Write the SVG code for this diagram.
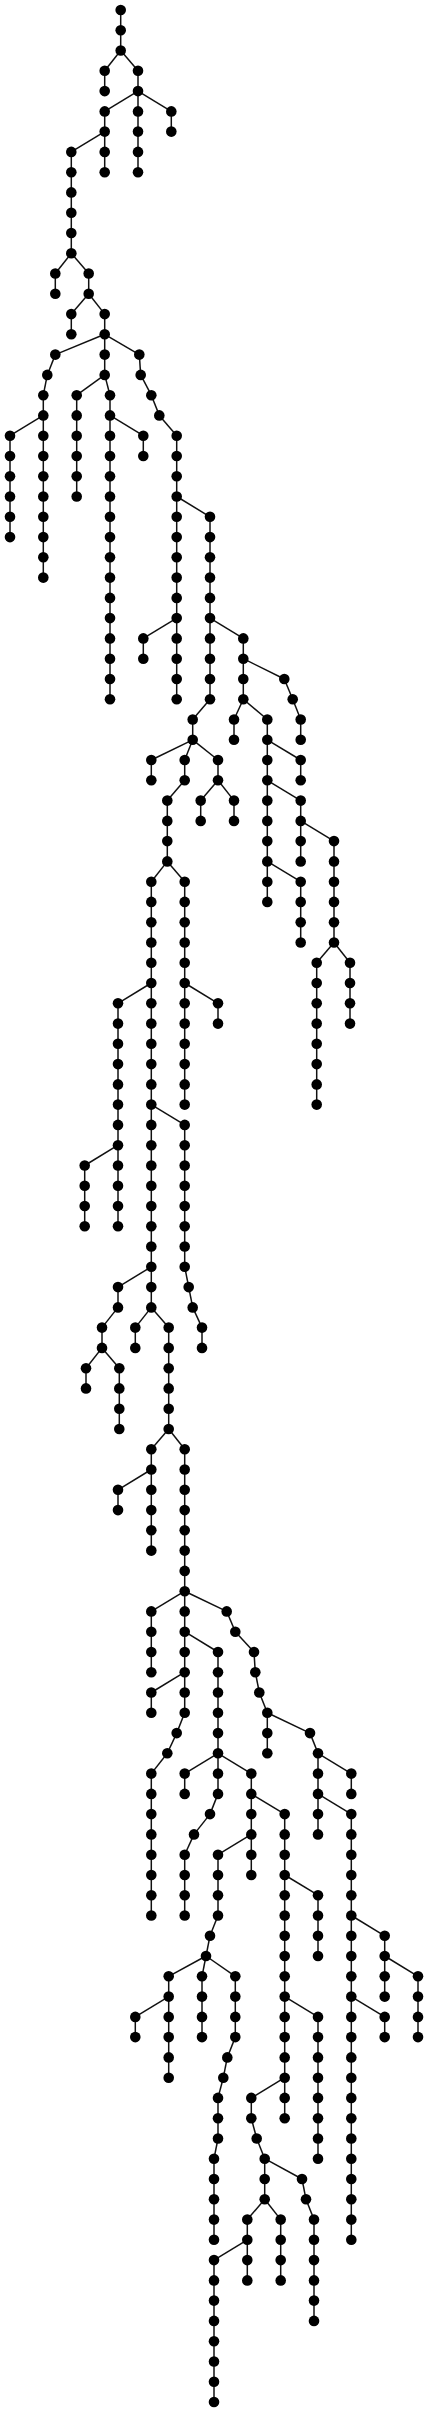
<svg xmlns="http://www.w3.org/2000/svg" width="428" height="2412" viewBox="0 0 428 2412">
<style>
rect.bg{fill:#fff}
#links path{fill:none;stroke:#111;stroke-width:1.5}
.node circle{fill:#000}
</style>
<rect class="bg" x="0" y="0" width="428" height="2412"/>
<g id="links">
<path d="M120.7 10V30.3"/><path d="M120.7 30.3V50.5"/>
<path d="M120.7 50.5L104.7 70.8"/><path d="M120.7 50.5L138 70.8"/>
<path d="M104.7 70.8V91.1"/><path d="M138 70.8V91.1"/>
<path d="M138 91.1L104.7 111.4"/><path d="M138 91.1V111.4"/><path d="M138 91.1L171.3 111.4"/>
<path d="M104.7 111.4V131.6"/><path d="M138 111.4V131.6"/><path d="M171.3 111.4V131.6"/>
<path d="M104.7 131.6L71.3 151.9"/><path d="M104.7 131.6V151.9"/><path d="M138 131.6V151.9"/>
<path d="M71.3 151.9V172.2"/><path d="M104.7 151.9V172.2"/><path d="M138 151.9V172.2"/>
<path d="M71.3 172.2V192.4"/><path d="M71.3 192.4V212.7"/><path d="M71.3 212.7V233"/><path d="M71.3 233V253.3"/>
<path d="M71.3 253.3L55.3 273.5"/><path d="M71.3 253.3L88.7 273.5"/>
<path d="M55.3 273.5V293.8"/><path d="M88.7 273.5V293.8"/>
<path d="M88.7 293.8L71.3 314.1"/><path d="M88.7 293.8L104.7 314.1"/>
<path d="M71.3 314.1V334.3"/><path d="M104.7 314.1V334.3"/>
<path d="M104.7 334.3L55.3 354.6"/><path d="M104.7 334.3V354.6"/><path d="M104.7 334.3L139.3 354.6"/>
<path d="M55.3 354.6L47.3 374.9"/><path d="M104.7 354.6V374.9"/><path d="M139.3 354.6L140.7 374.9"/>
<path d="M47.3 374.9L43.3 395.2"/><path d="M104.7 374.9L76.7 395.2"/><path d="M104.7 374.9L110 395.2"/><path d="M140.7 374.9L151.3 395.2"/>
<path d="M43.3 395.2V415.4"/><path d="M76.7 395.2V415.4"/><path d="M110 395.2V415.4"/><path d="M151.3 395.2L159.3 415.4"/>
<path d="M43.3 415.4L10 435.7"/><path d="M43.3 415.4V435.7"/><path d="M76.7 415.4V435.7"/><path d="M110 415.4V435.7"/><path d="M110 415.4L143.3 435.7"/><path d="M159.3 415.4L176.7 435.7"/>
<path d="M10 435.7V456"/><path d="M43.3 435.7V456"/><path d="M76.7 435.7V456"/><path d="M110 435.7V456"/><path d="M143.3 435.7V456"/><path d="M176.7 435.7V456"/>
<path d="M10 456V476.2"/><path d="M43.3 456V476.2"/><path d="M76.7 456V476.2"/><path d="M110 456V476.2"/><path d="M176.7 456V476.2"/>
<path d="M10 476.2V496.5"/><path d="M43.3 476.2V496.5"/><path d="M76.7 476.2V496.5"/><path d="M110 476.2V496.5"/><path d="M176.7 476.2V496.5"/>
<path d="M10 496.5V516.8"/><path d="M43.3 496.5V516.8"/><path d="M110 496.5V516.8"/><path d="M176.7 496.5V516.8"/><path d="M176.7 496.5L210 516.8"/>
<path d="M10 516.8V537.1"/><path d="M43.3 516.8V537.1"/><path d="M110 516.8V537.1"/><path d="M176.7 516.8V537.1"/><path d="M210 516.8V537.1"/>
<path d="M43.3 537.1V557.3"/><path d="M110 537.1V557.3"/><path d="M176.7 537.1V557.3"/><path d="M210 537.1V557.3"/>
<path d="M43.3 557.3V577.6"/><path d="M110 557.3V577.6"/><path d="M176.7 557.3V577.6"/><path d="M210 557.3V577.6"/>
<path d="M110 577.6V597.9"/><path d="M176.7 577.6V597.9"/><path d="M210 577.6V597.9"/>
<path d="M110 597.9V618.1"/><path d="M176.7 597.9V618.1"/><path d="M210 597.9V618.1"/>
<path d="M110 618.1V638.4"/><path d="M176.7 618.1L143.3 638.4"/><path d="M176.7 618.1V638.4"/><path d="M210 618.1V638.4"/><path d="M210 618.1L243.3 638.4"/>
<path d="M110 638.4V658.7"/><path d="M143.3 638.4V658.7"/><path d="M176.7 638.4V658.7"/><path d="M210 638.4V658.7"/><path d="M243.3 638.4V658.7"/>
<path d="M110 658.7V679"/><path d="M176.7 658.7V679"/><path d="M210 658.7V679"/><path d="M243.3 658.7V679"/><path d="M243.3 658.7L284.3 679"/>
<path d="M110 679V699.2"/><path d="M176.7 679V699.2"/><path d="M210 679V699.2"/><path d="M243.3 679V699.2"/><path d="M284.3 679L292.7 699.2"/>
<path d="M210 699.2L192.7 719.5"/><path d="M243.3 699.2L234 719.5"/><path d="M243.3 699.2L267.3 719.5"/><path d="M292.7 699.2L300.7 719.5"/>
<path d="M192.7 719.5V739.8"/><path d="M234 719.5V739.8"/><path d="M267.3 719.5V739.8"/><path d="M300.7 719.5V739.8"/>
<path d="M192.7 739.8L151.3 760"/><path d="M192.7 739.8L184.7 760"/><path d="M192.7 739.8L218 760"/><path d="M267.3 739.8V760"/><path d="M267.3 739.8L300.7 760"/>
<path d="M151.3 760V780.3"/><path d="M184.7 760V780.3"/><path d="M218 760V780.3"/><path d="M267.3 760V780.3"/><path d="M300.7 760V780.3"/>
<path d="M184.7 780.3L167.3 800.6"/><path d="M218 780.3L200.7 800.6"/><path d="M218 780.3L234 800.6"/><path d="M267.3 780.3V800.6"/><path d="M267.3 780.3L300.7 800.6"/>
<path d="M167.3 800.6V820.9"/><path d="M200.7 800.6V820.9"/><path d="M234 800.6V820.9"/><path d="M267.3 800.6V820.9"/><path d="M300.7 800.6V820.9"/>
<path d="M167.3 820.9V841.1"/><path d="M267.3 820.9V841.1"/><path d="M300.7 820.9V841.1"/><path d="M300.7 820.9L334 841.1"/>
<path d="M167.3 841.1V861.4"/><path d="M267.3 841.1V861.4"/><path d="M300.7 841.1V861.4"/><path d="M334 841.1V861.4"/>
<path d="M167.3 861.4L151.3 881.7"/><path d="M167.3 861.4L184.7 881.7"/><path d="M267.3 861.4V881.7"/><path d="M267.3 861.4L300.7 881.7"/><path d="M334 861.4V881.7"/>
<path d="M151.3 881.7V901.9"/><path d="M184.7 881.7V901.9"/><path d="M267.3 881.7V901.9"/><path d="M300.7 881.7V901.9"/><path d="M334 881.7V901.9"/>
<path d="M151.3 901.9V922.2"/><path d="M184.7 901.9V922.2"/><path d="M300.7 901.9V922.2"/><path d="M334 901.9V922.2"/>
<path d="M151.3 922.2V942.5"/><path d="M184.7 922.2V942.5"/><path d="M300.7 922.2V942.5"/><path d="M334 922.2V942.5"/>
<path d="M151.3 942.5V962.8"/><path d="M184.7 942.5V962.8"/><path d="M334 942.5L316.7 962.8"/><path d="M334 942.5L350 962.8"/>
<path d="M151.3 962.8V983"/><path d="M184.7 962.8V983"/><path d="M316.7 962.8V983"/><path d="M350 962.8V983"/>
<path d="M151.3 983L118 1003.3"/><path d="M151.3 983V1003.3"/><path d="M184.7 983V1003.3"/><path d="M184.7 983L218 1003.3"/><path d="M316.7 983V1003.3"/><path d="M350 983V1003.3"/>
<path d="M118 1003.3V1023.6"/><path d="M151.3 1003.3V1023.6"/><path d="M184.7 1003.3V1023.6"/><path d="M218 1003.3V1023.6"/><path d="M316.7 1003.3V1023.6"/><path d="M350 1003.3V1023.6"/>
<path d="M118 1023.6V1043.8"/><path d="M151.3 1023.6V1043.8"/><path d="M184.7 1023.6V1043.8"/><path d="M316.7 1023.6V1043.8"/>
<path d="M118 1043.8V1064.1"/><path d="M151.3 1043.8V1064.1"/><path d="M184.7 1043.8V1064.1"/><path d="M316.7 1043.8V1064.1"/>
<path d="M118 1064.1V1084.4"/><path d="M151.3 1064.1V1084.4"/><path d="M184.7 1064.1V1084.4"/><path d="M316.7 1064.1V1084.4"/>
<path d="M118 1084.4V1104.6"/><path d="M151.3 1084.4V1104.6"/><path d="M184.7 1084.4V1104.6"/><path d="M316.7 1084.4V1104.6"/>
<path d="M118 1104.6V1124.9"/><path d="M151.3 1104.6V1124.9"/><path d="M151.3 1104.6L184.7 1124.9"/>
<path d="M118 1124.9V1145.2"/><path d="M151.3 1124.9V1145.2"/><path d="M184.7 1124.9V1145.2"/>
<path d="M118 1145.2L84.7 1165.5"/><path d="M118 1145.2V1165.5"/><path d="M151.3 1145.2V1165.5"/><path d="M184.7 1145.2V1165.5"/>
<path d="M84.7 1165.5V1185.7"/><path d="M118 1165.5V1185.7"/><path d="M151.3 1165.5V1185.7"/><path d="M184.7 1165.5V1185.7"/>
<path d="M84.7 1185.7V1206"/><path d="M118 1185.7V1206"/><path d="M151.3 1185.7V1206"/><path d="M184.7 1185.7V1206"/>
<path d="M84.7 1206V1226.3"/><path d="M118 1206V1226.3"/><path d="M151.3 1206V1226.3"/><path d="M184.7 1206V1226.3"/>
<path d="M151.3 1226.3V1246.5"/><path d="M184.7 1226.3V1246.5"/>
<path d="M151.3 1246.5V1266.8"/><path d="M184.7 1246.5V1266.8"/>
<path d="M151.3 1266.8L118 1287.1"/><path d="M151.3 1266.8V1287.1"/><path d="M184.7 1266.8L188.7 1287.1"/>
<path d="M118 1287.1V1307.4"/><path d="M151.3 1287.1V1307.4"/><path d="M188.7 1287.1L192.7 1307.4"/>
<path d="M118 1307.4L102 1327.6"/><path d="M151.3 1307.4L135.3 1327.6"/><path d="M151.3 1307.4L168.7 1327.6"/><path d="M192.7 1307.4L202 1327.6"/>
<path d="M102 1327.6V1347.9"/><path d="M135.3 1327.6V1347.9"/><path d="M168.7 1327.6V1347.9"/><path d="M202 1327.6V1347.9"/>
<path d="M102 1347.9L86 1368.2"/><path d="M102 1347.9L119.3 1368.2"/><path d="M168.7 1347.9V1368.2"/>
<path d="M86 1368.2V1388.4"/><path d="M119.3 1368.2V1388.4"/><path d="M168.7 1368.2V1388.4"/>
<path d="M119.3 1388.4V1408.7"/><path d="M168.7 1388.4V1408.7"/>
<path d="M119.3 1408.7V1429"/><path d="M168.7 1408.7V1429"/>
<path d="M168.7 1429L151.3 1449.3"/><path d="M168.7 1429L184.7 1449.3"/>
<path d="M151.3 1449.3V1469.5"/><path d="M184.7 1449.3V1469.5"/>
<path d="M151.3 1469.5L118 1489.8"/><path d="M151.3 1469.5V1489.8"/><path d="M184.7 1469.5V1489.8"/>
<path d="M118 1489.8V1510.1"/><path d="M151.3 1489.8V1510.1"/><path d="M184.7 1489.8V1510.1"/>
<path d="M151.3 1510.1V1530.3"/><path d="M184.7 1510.1V1530.3"/>
<path d="M151.3 1530.3V1550.6"/><path d="M184.7 1530.3V1550.6"/>
<path d="M184.7 1550.6V1570.9"/><path d="M184.7 1570.9V1591.2"/>
<path d="M184.7 1591.2L151.3 1611.4"/><path d="M184.7 1591.2V1611.4"/><path d="M184.7 1591.2L226.7 1611.4"/>
<path d="M151.3 1611.4V1631.7"/><path d="M184.7 1611.4V1631.7"/><path d="M226.7 1611.4L235.3 1631.7"/>
<path d="M151.3 1631.7V1652"/><path d="M184.7 1631.7V1652"/><path d="M184.7 1631.7L218 1652"/><path d="M235.3 1631.7L254 1652"/>
<path d="M151.3 1652V1672.2"/><path d="M184.7 1652V1672.2"/><path d="M218 1652V1672.2"/><path d="M254 1652L255.3 1672.2"/>
<path d="M184.7 1672.2L151.3 1692.5"/><path d="M184.7 1672.2V1692.5"/><path d="M218 1672.2V1692.5"/><path d="M255.3 1672.2L259.3 1692.5"/>
<path d="M151.3 1692.5V1712.8"/><path d="M184.7 1692.5V1712.8"/><path d="M218 1692.5V1712.8"/><path d="M259.3 1692.5L267.3 1712.8"/>
<path d="M184.7 1712.8L176.7 1733.1"/><path d="M218 1712.8V1733.1"/><path d="M267.3 1712.8V1733.1"/><path d="M267.3 1712.8L310 1733.1"/>
<path d="M176.7 1733.1L167.3 1753.3"/><path d="M218 1733.1V1753.3"/><path d="M267.3 1733.1V1753.3"/><path d="M310 1733.1L318 1753.3"/>
<path d="M167.3 1753.3L151.3 1773.6"/><path d="M218 1753.3L184.7 1773.6"/><path d="M218 1753.3V1773.6"/><path d="M218 1753.3L251.3 1773.6"/><path d="M318 1753.3V1773.6"/><path d="M318 1753.3L351.3 1773.6"/>
<path d="M151.3 1773.6V1793.9"/><path d="M184.7 1773.6V1793.9"/><path d="M218 1773.6V1793.9"/><path d="M251.3 1773.6V1793.9"/><path d="M318 1773.6V1793.9"/><path d="M351.3 1773.6V1793.9"/>
<path d="M151.3 1793.9V1814.1"/><path d="M218 1793.9L210 1814.1"/><path d="M251.3 1793.9V1814.1"/><path d="M251.3 1793.9L284.7 1814.1"/><path d="M318 1793.9V1814.1"/><path d="M318 1793.9L351.3 1814.1"/>
<path d="M151.3 1814.1V1834.4"/><path d="M210 1814.1L194 1834.4"/><path d="M251.3 1814.1V1834.4"/><path d="M284.7 1814.1V1834.4"/><path d="M318 1814.1V1834.4"/><path d="M351.3 1814.1V1834.4"/>
<path d="M151.3 1834.4V1854.7"/><path d="M194 1834.4L184.7 1854.7"/><path d="M251.3 1834.4L218 1854.7"/><path d="M251.3 1834.4V1854.7"/><path d="M284.7 1834.4V1854.7"/><path d="M351.3 1834.4V1854.7"/>
<path d="M151.3 1854.7V1875"/><path d="M184.7 1854.7V1875"/><path d="M218 1854.7V1875"/><path d="M251.3 1854.7V1875"/><path d="M284.7 1854.7V1875"/><path d="M351.3 1854.7V1875"/>
<path d="M151.3 1875V1895.2"/><path d="M184.7 1875V1895.2"/><path d="M218 1875V1895.2"/><path d="M284.7 1875V1895.2"/><path d="M284.7 1875L318 1895.2"/><path d="M351.3 1875V1895.2"/>
<path d="M151.3 1895.2V1915.5"/><path d="M184.7 1895.2V1915.5"/><path d="M218 1895.2V1915.5"/><path d="M284.7 1895.2V1915.5"/><path d="M318 1895.2V1915.5"/><path d="M351.3 1895.2V1915.5"/>
<path d="M218 1915.5L210 1935.8"/><path d="M284.7 1915.5V1935.8"/><path d="M318 1915.5V1935.8"/><path d="M351.3 1915.5V1935.8"/><path d="M351.3 1915.5L384.7 1935.8"/>
<path d="M210 1935.8L206 1956"/><path d="M284.7 1935.8V1956"/><path d="M318 1935.8V1956"/><path d="M351.3 1935.8V1956"/><path d="M384.7 1935.8V1956"/>
<path d="M206 1956L168.7 1976.3"/><path d="M206 1956L202 1976.3"/><path d="M206 1956L235.3 1976.3"/><path d="M284.7 1956V1976.3"/><path d="M351.3 1956V1976.3"/><path d="M384.7 1956V1976.3"/><path d="M384.7 1956L418 1976.3"/>
<path d="M168.7 1976.3V1996.6"/><path d="M202 1976.3V1996.6"/><path d="M235.3 1976.3V1996.6"/><path d="M284.7 1976.3V1996.6"/><path d="M351.3 1976.3V1996.6"/><path d="M384.7 1976.3V1996.6"/><path d="M418 1976.3V1996.6"/>
<path d="M168.7 1996.6L135.3 2016.9"/><path d="M168.7 1996.6V2016.9"/><path d="M202 1996.6V2016.9"/><path d="M235.3 1996.6V2016.9"/><path d="M284.7 1996.6V2016.9"/><path d="M284.7 1996.6L318 2016.9"/><path d="M351.3 1996.6V2016.9"/><path d="M351.3 1996.6L384.7 2016.9"/><path d="M418 1996.6V2016.9"/>
<path d="M135.3 2016.9V2037.1"/><path d="M168.7 2016.9V2037.1"/><path d="M202 2016.9V2037.1"/><path d="M235.3 2016.9V2037.1"/><path d="M284.7 2016.9V2037.1"/><path d="M318 2016.9V2037.1"/><path d="M351.3 2016.9V2037.1"/><path d="M384.7 2016.9V2037.1"/><path d="M418 2016.9V2037.1"/>
<path d="M168.7 2037.1V2057.4"/><path d="M235.3 2037.1L227.3 2057.4"/><path d="M284.7 2037.1V2057.4"/><path d="M318 2037.1V2057.4"/><path d="M351.3 2037.1V2057.4"/>
<path d="M168.7 2057.4V2077.7"/><path d="M227.3 2057.4L223.3 2077.7"/><path d="M284.7 2057.4V2077.7"/><path d="M318 2057.4V2077.7"/><path d="M351.3 2057.4V2077.7"/>
<path d="M223.3 2077.7L218 2097.9"/><path d="M284.7 2077.7L251.3 2097.9"/><path d="M284.7 2077.7V2097.9"/><path d="M318 2077.7V2097.9"/><path d="M351.3 2077.7V2097.9"/>
<path d="M218 2097.9V2118.2"/><path d="M251.3 2097.9V2118.2"/><path d="M284.7 2097.9V2118.2"/><path d="M318 2097.9V2118.2"/><path d="M351.3 2097.9V2118.2"/>
<path d="M218 2118.2V2138.5"/><path d="M251.3 2118.2L256.7 2138.5"/><path d="M318 2118.2V2138.5"/><path d="M351.3 2118.2V2138.5"/>
<path d="M218 2138.5L214 2158.7"/><path d="M256.7 2138.5L264.7 2158.7"/><path d="M318 2138.5V2158.7"/><path d="M351.3 2138.5V2158.7"/>
<path d="M214 2158.7V2179"/><path d="M264.7 2158.7V2179"/><path d="M264.7 2158.7L302 2179"/><path d="M351.3 2158.7V2179"/>
<path d="M214 2179V2199.3"/><path d="M264.7 2179V2199.3"/><path d="M302 2179L306 2199.3"/><path d="M351.3 2179V2199.3"/>
<path d="M214 2199.3V2219.6"/><path d="M264.7 2199.3L247.3 2219.6"/><path d="M264.7 2199.3L280.7 2219.6"/><path d="M306 2199.3L314 2219.6"/><path d="M351.3 2199.3V2219.6"/>
<path d="M214 2219.6V2239.8"/><path d="M247.3 2219.6V2239.8"/><path d="M280.7 2219.6V2239.8"/><path d="M314 2219.6V2239.8"/><path d="M351.3 2219.6V2239.8"/>
<path d="M247.3 2239.8L214 2260.1"/><path d="M247.3 2239.8V2260.1"/><path d="M280.7 2239.8V2260.1"/><path d="M314 2239.8V2260.1"/>
<path d="M214 2260.1V2280.4"/><path d="M247.3 2260.1V2280.4"/><path d="M280.7 2260.1V2280.4"/><path d="M314 2260.1V2280.4"/>
<path d="M214 2280.4V2300.6"/><path d="M314 2280.4V2300.6"/>
<path d="M214 2300.6V2320.9"/><path d="M314 2300.6V2320.9"/>
<path d="M214 2320.9V2341.2"/><path d="M214 2341.2V2361.5"/><path d="M214 2361.5V2381.7"/><path d="M214 2381.7V2402"/>
</g>
<g id="nodes">
<g class="node" id="n0_0"><circle cx="120.7" cy="10" r="5.3"/></g>
<g class="node" id="n1_0"><circle cx="120.7" cy="30.3" r="5.3"/></g>
<g class="node" id="n2_0"><circle cx="120.7" cy="50.5" r="5.3"/></g>
<g class="node" id="n3_0"><circle cx="104.7" cy="70.8" r="5.3"/></g>
<g class="node" id="n3_1"><circle cx="138" cy="70.8" r="5.3"/></g>
<g class="node" id="n4_0"><circle cx="104.7" cy="91.1" r="5.3"/></g>
<g class="node" id="n4_1"><circle cx="138" cy="91.1" r="5.3"/></g>
<g class="node" id="n5_0"><circle cx="104.7" cy="111.4" r="5.3"/></g>
<g class="node" id="n5_1"><circle cx="138" cy="111.4" r="5.3"/></g>
<g class="node" id="n5_2"><circle cx="171.3" cy="111.4" r="5.3"/></g>
<g class="node" id="n6_0"><circle cx="104.7" cy="131.6" r="5.3"/></g>
<g class="node" id="n6_1"><circle cx="138" cy="131.6" r="5.3"/></g>
<g class="node" id="n6_2"><circle cx="171.3" cy="131.6" r="5.3"/></g>
<g class="node" id="n7_0"><circle cx="71.3" cy="151.9" r="5.3"/></g>
<g class="node" id="n7_1"><circle cx="104.7" cy="151.9" r="5.3"/></g>
<g class="node" id="n7_2"><circle cx="138" cy="151.9" r="5.3"/></g>
<g class="node" id="n8_0"><circle cx="71.3" cy="172.2" r="5.3"/></g>
<g class="node" id="n8_1"><circle cx="104.7" cy="172.2" r="5.3"/></g>
<g class="node" id="n8_2"><circle cx="138" cy="172.2" r="5.3"/></g>
<g class="node" id="n9_0"><circle cx="71.3" cy="192.4" r="5.3"/></g>
<g class="node" id="n10_0"><circle cx="71.3" cy="212.7" r="5.3"/></g>
<g class="node" id="n11_0"><circle cx="71.3" cy="233" r="5.3"/></g>
<g class="node" id="n12_0"><circle cx="71.3" cy="253.3" r="5.3"/></g>
<g class="node" id="n13_0"><circle cx="55.3" cy="273.5" r="5.3"/></g>
<g class="node" id="n13_1"><circle cx="88.7" cy="273.5" r="5.3"/></g>
<g class="node" id="n14_0"><circle cx="55.3" cy="293.8" r="5.3"/></g>
<g class="node" id="n14_1"><circle cx="88.7" cy="293.8" r="5.3"/></g>
<g class="node" id="n15_0"><circle cx="71.3" cy="314.1" r="5.3"/></g>
<g class="node" id="n15_1"><circle cx="104.7" cy="314.1" r="5.3"/></g>
<g class="node" id="n16_0"><circle cx="71.3" cy="334.3" r="5.3"/></g>
<g class="node" id="n16_1"><circle cx="104.7" cy="334.3" r="5.3"/></g>
<g class="node" id="n17_0"><circle cx="55.3" cy="354.6" r="5.3"/></g>
<g class="node" id="n17_1"><circle cx="104.7" cy="354.6" r="5.3"/></g>
<g class="node" id="n17_2"><circle cx="139.3" cy="354.6" r="5.3"/></g>
<g class="node" id="n18_0"><circle cx="47.3" cy="374.9" r="5.3"/></g>
<g class="node" id="n18_1"><circle cx="104.7" cy="374.9" r="5.3"/></g>
<g class="node" id="n18_2"><circle cx="140.7" cy="374.9" r="5.3"/></g>
<g class="node" id="n19_0"><circle cx="43.3" cy="395.2" r="5.3"/></g>
<g class="node" id="n19_1"><circle cx="76.7" cy="395.2" r="5.3"/></g>
<g class="node" id="n19_2"><circle cx="110" cy="395.2" r="5.3"/></g>
<g class="node" id="n19_3"><circle cx="151.3" cy="395.2" r="5.3"/></g>
<g class="node" id="n20_0"><circle cx="43.3" cy="415.4" r="5.3"/></g>
<g class="node" id="n20_1"><circle cx="76.7" cy="415.4" r="5.3"/></g>
<g class="node" id="n20_2"><circle cx="110" cy="415.4" r="5.3"/></g>
<g class="node" id="n20_3"><circle cx="159.3" cy="415.4" r="5.3"/></g>
<g class="node" id="n21_0"><circle cx="10" cy="435.7" r="5.3"/></g>
<g class="node" id="n21_1"><circle cx="43.3" cy="435.7" r="5.3"/></g>
<g class="node" id="n21_2"><circle cx="76.7" cy="435.7" r="5.3"/></g>
<g class="node" id="n21_3"><circle cx="110" cy="435.7" r="5.3"/></g>
<g class="node" id="n21_4"><circle cx="143.3" cy="435.7" r="5.3"/></g>
<g class="node" id="n21_5"><circle cx="176.7" cy="435.7" r="5.3"/></g>
<g class="node" id="n22_0"><circle cx="10" cy="456" r="5.3"/></g>
<g class="node" id="n22_1"><circle cx="43.3" cy="456" r="5.3"/></g>
<g class="node" id="n22_2"><circle cx="76.7" cy="456" r="5.3"/></g>
<g class="node" id="n22_3"><circle cx="110" cy="456" r="5.3"/></g>
<g class="node" id="n22_4"><circle cx="143.3" cy="456" r="5.3"/></g>
<g class="node" id="n22_5"><circle cx="176.7" cy="456" r="5.3"/></g>
<g class="node" id="n23_0"><circle cx="10" cy="476.2" r="5.3"/></g>
<g class="node" id="n23_1"><circle cx="43.3" cy="476.2" r="5.3"/></g>
<g class="node" id="n23_2"><circle cx="76.7" cy="476.2" r="5.3"/></g>
<g class="node" id="n23_3"><circle cx="110" cy="476.2" r="5.3"/></g>
<g class="node" id="n23_4"><circle cx="176.7" cy="476.2" r="5.3"/></g>
<g class="node" id="n24_0"><circle cx="10" cy="496.5" r="5.3"/></g>
<g class="node" id="n24_1"><circle cx="43.3" cy="496.5" r="5.3"/></g>
<g class="node" id="n24_2"><circle cx="76.7" cy="496.5" r="5.3"/></g>
<g class="node" id="n24_3"><circle cx="110" cy="496.5" r="5.3"/></g>
<g class="node" id="n24_4"><circle cx="176.7" cy="496.5" r="5.3"/></g>
<g class="node" id="n25_0"><circle cx="10" cy="516.8" r="5.3"/></g>
<g class="node" id="n25_1"><circle cx="43.3" cy="516.8" r="5.3"/></g>
<g class="node" id="n25_2"><circle cx="110" cy="516.8" r="5.3"/></g>
<g class="node" id="n25_3"><circle cx="176.7" cy="516.8" r="5.3"/></g>
<g class="node" id="n25_4"><circle cx="210" cy="516.8" r="5.3"/></g>
<g class="node" id="n26_0"><circle cx="10" cy="537.1" r="5.3"/></g>
<g class="node" id="n26_1"><circle cx="43.3" cy="537.1" r="5.3"/></g>
<g class="node" id="n26_2"><circle cx="110" cy="537.1" r="5.3"/></g>
<g class="node" id="n26_3"><circle cx="176.7" cy="537.1" r="5.3"/></g>
<g class="node" id="n26_4"><circle cx="210" cy="537.1" r="5.3"/></g>
<g class="node" id="n27_0"><circle cx="43.3" cy="557.3" r="5.3"/></g>
<g class="node" id="n27_1"><circle cx="110" cy="557.3" r="5.3"/></g>
<g class="node" id="n27_2"><circle cx="176.7" cy="557.3" r="5.3"/></g>
<g class="node" id="n27_3"><circle cx="210" cy="557.3" r="5.3"/></g>
<g class="node" id="n28_0"><circle cx="43.3" cy="577.6" r="5.3"/></g>
<g class="node" id="n28_1"><circle cx="110" cy="577.6" r="5.3"/></g>
<g class="node" id="n28_2"><circle cx="176.7" cy="577.6" r="5.3"/></g>
<g class="node" id="n28_3"><circle cx="210" cy="577.6" r="5.3"/></g>
<g class="node" id="n29_0"><circle cx="110" cy="597.9" r="5.3"/></g>
<g class="node" id="n29_1"><circle cx="176.7" cy="597.9" r="5.3"/></g>
<g class="node" id="n29_2"><circle cx="210" cy="597.9" r="5.3"/></g>
<g class="node" id="n30_0"><circle cx="110" cy="618.1" r="5.3"/></g>
<g class="node" id="n30_1"><circle cx="176.7" cy="618.1" r="5.3"/></g>
<g class="node" id="n30_2"><circle cx="210" cy="618.1" r="5.3"/></g>
<g class="node" id="n31_0"><circle cx="110" cy="638.4" r="5.3"/></g>
<g class="node" id="n31_1"><circle cx="143.3" cy="638.4" r="5.3"/></g>
<g class="node" id="n31_2"><circle cx="176.7" cy="638.4" r="5.3"/></g>
<g class="node" id="n31_3"><circle cx="210" cy="638.4" r="5.3"/></g>
<g class="node" id="n31_4"><circle cx="243.3" cy="638.4" r="5.3"/></g>
<g class="node" id="n32_0"><circle cx="110" cy="658.7" r="5.3"/></g>
<g class="node" id="n32_1"><circle cx="143.3" cy="658.7" r="5.3"/></g>
<g class="node" id="n32_2"><circle cx="176.7" cy="658.7" r="5.3"/></g>
<g class="node" id="n32_3"><circle cx="210" cy="658.7" r="5.3"/></g>
<g class="node" id="n32_4"><circle cx="243.3" cy="658.7" r="5.3"/></g>
<g class="node" id="n33_0"><circle cx="110" cy="679" r="5.3"/></g>
<g class="node" id="n33_1"><circle cx="176.7" cy="679" r="5.3"/></g>
<g class="node" id="n33_2"><circle cx="210" cy="679" r="5.3"/></g>
<g class="node" id="n33_3"><circle cx="243.3" cy="679" r="5.3"/></g>
<g class="node" id="n33_4"><circle cx="284.3" cy="679" r="5.3"/></g>
<g class="node" id="n34_0"><circle cx="110" cy="699.2" r="5.3"/></g>
<g class="node" id="n34_1"><circle cx="176.7" cy="699.2" r="5.3"/></g>
<g class="node" id="n34_2"><circle cx="210" cy="699.2" r="5.3"/></g>
<g class="node" id="n34_3"><circle cx="243.3" cy="699.2" r="5.3"/></g>
<g class="node" id="n34_4"><circle cx="292.7" cy="699.2" r="5.3"/></g>
<g class="node" id="n35_0"><circle cx="192.7" cy="719.5" r="5.3"/></g>
<g class="node" id="n35_1"><circle cx="234" cy="719.5" r="5.3"/></g>
<g class="node" id="n35_2"><circle cx="267.3" cy="719.5" r="5.3"/></g>
<g class="node" id="n35_3"><circle cx="300.7" cy="719.5" r="5.3"/></g>
<g class="node" id="n36_0"><circle cx="192.7" cy="739.8" r="5.3"/></g>
<g class="node" id="n36_1"><circle cx="234" cy="739.8" r="5.3"/></g>
<g class="node" id="n36_2"><circle cx="267.3" cy="739.8" r="5.3"/></g>
<g class="node" id="n36_3"><circle cx="300.7" cy="739.8" r="5.3"/></g>
<g class="node" id="n37_0"><circle cx="151.3" cy="760" r="5.3"/></g>
<g class="node" id="n37_1"><circle cx="184.7" cy="760" r="5.3"/></g>
<g class="node" id="n37_2"><circle cx="218" cy="760" r="5.3"/></g>
<g class="node" id="n37_3"><circle cx="267.3" cy="760" r="5.3"/></g>
<g class="node" id="n37_4"><circle cx="300.7" cy="760" r="5.3"/></g>
<g class="node" id="n38_0"><circle cx="151.3" cy="780.3" r="5.3"/></g>
<g class="node" id="n38_1"><circle cx="184.7" cy="780.3" r="5.3"/></g>
<g class="node" id="n38_2"><circle cx="218" cy="780.3" r="5.3"/></g>
<g class="node" id="n38_3"><circle cx="267.3" cy="780.3" r="5.3"/></g>
<g class="node" id="n38_4"><circle cx="300.7" cy="780.3" r="5.3"/></g>
<g class="node" id="n39_0"><circle cx="167.3" cy="800.6" r="5.3"/></g>
<g class="node" id="n39_1"><circle cx="200.7" cy="800.6" r="5.3"/></g>
<g class="node" id="n39_2"><circle cx="234" cy="800.6" r="5.3"/></g>
<g class="node" id="n39_3"><circle cx="267.3" cy="800.6" r="5.3"/></g>
<g class="node" id="n39_4"><circle cx="300.7" cy="800.6" r="5.3"/></g>
<g class="node" id="n40_0"><circle cx="167.3" cy="820.9" r="5.3"/></g>
<g class="node" id="n40_1"><circle cx="200.7" cy="820.9" r="5.3"/></g>
<g class="node" id="n40_2"><circle cx="234" cy="820.9" r="5.3"/></g>
<g class="node" id="n40_3"><circle cx="267.3" cy="820.9" r="5.3"/></g>
<g class="node" id="n40_4"><circle cx="300.7" cy="820.9" r="5.3"/></g>
<g class="node" id="n41_0"><circle cx="167.3" cy="841.1" r="5.3"/></g>
<g class="node" id="n41_1"><circle cx="267.3" cy="841.1" r="5.3"/></g>
<g class="node" id="n41_2"><circle cx="300.7" cy="841.1" r="5.3"/></g>
<g class="node" id="n41_3"><circle cx="334" cy="841.1" r="5.3"/></g>
<g class="node" id="n42_0"><circle cx="167.3" cy="861.4" r="5.3"/></g>
<g class="node" id="n42_1"><circle cx="267.3" cy="861.4" r="5.3"/></g>
<g class="node" id="n42_2"><circle cx="300.7" cy="861.4" r="5.3"/></g>
<g class="node" id="n42_3"><circle cx="334" cy="861.4" r="5.3"/></g>
<g class="node" id="n43_0"><circle cx="151.3" cy="881.7" r="5.3"/></g>
<g class="node" id="n43_1"><circle cx="184.7" cy="881.7" r="5.3"/></g>
<g class="node" id="n43_2"><circle cx="267.3" cy="881.7" r="5.3"/></g>
<g class="node" id="n43_3"><circle cx="300.7" cy="881.7" r="5.3"/></g>
<g class="node" id="n43_4"><circle cx="334" cy="881.7" r="5.3"/></g>
<g class="node" id="n44_0"><circle cx="151.3" cy="901.9" r="5.3"/></g>
<g class="node" id="n44_1"><circle cx="184.7" cy="901.9" r="5.3"/></g>
<g class="node" id="n44_2"><circle cx="267.3" cy="901.9" r="5.3"/></g>
<g class="node" id="n44_3"><circle cx="300.7" cy="901.9" r="5.3"/></g>
<g class="node" id="n44_4"><circle cx="334" cy="901.9" r="5.3"/></g>
<g class="node" id="n45_0"><circle cx="151.3" cy="922.2" r="5.3"/></g>
<g class="node" id="n45_1"><circle cx="184.7" cy="922.2" r="5.3"/></g>
<g class="node" id="n45_2"><circle cx="300.7" cy="922.2" r="5.3"/></g>
<g class="node" id="n45_3"><circle cx="334" cy="922.2" r="5.3"/></g>
<g class="node" id="n46_0"><circle cx="151.3" cy="942.5" r="5.3"/></g>
<g class="node" id="n46_1"><circle cx="184.7" cy="942.5" r="5.3"/></g>
<g class="node" id="n46_2"><circle cx="300.7" cy="942.5" r="5.3"/></g>
<g class="node" id="n46_3"><circle cx="334" cy="942.5" r="5.3"/></g>
<g class="node" id="n47_0"><circle cx="151.3" cy="962.8" r="5.3"/></g>
<g class="node" id="n47_1"><circle cx="184.7" cy="962.8" r="5.3"/></g>
<g class="node" id="n47_2"><circle cx="316.7" cy="962.8" r="5.3"/></g>
<g class="node" id="n47_3"><circle cx="350" cy="962.8" r="5.3"/></g>
<g class="node" id="n48_0"><circle cx="151.3" cy="983" r="5.3"/></g>
<g class="node" id="n48_1"><circle cx="184.7" cy="983" r="5.3"/></g>
<g class="node" id="n48_2"><circle cx="316.7" cy="983" r="5.3"/></g>
<g class="node" id="n48_3"><circle cx="350" cy="983" r="5.3"/></g>
<g class="node" id="n49_0"><circle cx="118" cy="1003.3" r="5.3"/></g>
<g class="node" id="n49_1"><circle cx="151.3" cy="1003.3" r="5.3"/></g>
<g class="node" id="n49_2"><circle cx="184.7" cy="1003.3" r="5.3"/></g>
<g class="node" id="n49_3"><circle cx="218" cy="1003.3" r="5.3"/></g>
<g class="node" id="n49_4"><circle cx="316.7" cy="1003.3" r="5.3"/></g>
<g class="node" id="n49_5"><circle cx="350" cy="1003.3" r="5.3"/></g>
<g class="node" id="n50_0"><circle cx="118" cy="1023.6" r="5.3"/></g>
<g class="node" id="n50_1"><circle cx="151.3" cy="1023.6" r="5.3"/></g>
<g class="node" id="n50_2"><circle cx="184.7" cy="1023.6" r="5.3"/></g>
<g class="node" id="n50_3"><circle cx="218" cy="1023.6" r="5.3"/></g>
<g class="node" id="n50_4"><circle cx="316.7" cy="1023.6" r="5.3"/></g>
<g class="node" id="n50_5"><circle cx="350" cy="1023.6" r="5.3"/></g>
<g class="node" id="n51_0"><circle cx="118" cy="1043.8" r="5.3"/></g>
<g class="node" id="n51_1"><circle cx="151.3" cy="1043.8" r="5.3"/></g>
<g class="node" id="n51_2"><circle cx="184.7" cy="1043.8" r="5.3"/></g>
<g class="node" id="n51_3"><circle cx="316.7" cy="1043.8" r="5.3"/></g>
<g class="node" id="n52_0"><circle cx="118" cy="1064.1" r="5.3"/></g>
<g class="node" id="n52_1"><circle cx="151.3" cy="1064.1" r="5.3"/></g>
<g class="node" id="n52_2"><circle cx="184.7" cy="1064.1" r="5.3"/></g>
<g class="node" id="n52_3"><circle cx="316.7" cy="1064.1" r="5.3"/></g>
<g class="node" id="n53_0"><circle cx="118" cy="1084.4" r="5.3"/></g>
<g class="node" id="n53_1"><circle cx="151.3" cy="1084.4" r="5.3"/></g>
<g class="node" id="n53_2"><circle cx="184.7" cy="1084.4" r="5.3"/></g>
<g class="node" id="n53_3"><circle cx="316.7" cy="1084.4" r="5.3"/></g>
<g class="node" id="n54_0"><circle cx="118" cy="1104.6" r="5.3"/></g>
<g class="node" id="n54_1"><circle cx="151.3" cy="1104.6" r="5.3"/></g>
<g class="node" id="n54_2"><circle cx="184.7" cy="1104.6" r="5.3"/></g>
<g class="node" id="n54_3"><circle cx="316.7" cy="1104.6" r="5.3"/></g>
<g class="node" id="n55_0"><circle cx="118" cy="1124.9" r="5.3"/></g>
<g class="node" id="n55_1"><circle cx="151.3" cy="1124.9" r="5.3"/></g>
<g class="node" id="n55_2"><circle cx="184.7" cy="1124.9" r="5.3"/></g>
<g class="node" id="n56_0"><circle cx="118" cy="1145.2" r="5.3"/></g>
<g class="node" id="n56_1"><circle cx="151.3" cy="1145.2" r="5.3"/></g>
<g class="node" id="n56_2"><circle cx="184.7" cy="1145.2" r="5.3"/></g>
<g class="node" id="n57_0"><circle cx="84.7" cy="1165.5" r="5.3"/></g>
<g class="node" id="n57_1"><circle cx="118" cy="1165.5" r="5.3"/></g>
<g class="node" id="n57_2"><circle cx="151.3" cy="1165.5" r="5.3"/></g>
<g class="node" id="n57_3"><circle cx="184.7" cy="1165.5" r="5.3"/></g>
<g class="node" id="n58_0"><circle cx="84.7" cy="1185.7" r="5.3"/></g>
<g class="node" id="n58_1"><circle cx="118" cy="1185.7" r="5.3"/></g>
<g class="node" id="n58_2"><circle cx="151.3" cy="1185.7" r="5.3"/></g>
<g class="node" id="n58_3"><circle cx="184.7" cy="1185.7" r="5.3"/></g>
<g class="node" id="n59_0"><circle cx="84.7" cy="1206" r="5.3"/></g>
<g class="node" id="n59_1"><circle cx="118" cy="1206" r="5.3"/></g>
<g class="node" id="n59_2"><circle cx="151.3" cy="1206" r="5.3"/></g>
<g class="node" id="n59_3"><circle cx="184.7" cy="1206" r="5.3"/></g>
<g class="node" id="n60_0"><circle cx="84.7" cy="1226.3" r="5.3"/></g>
<g class="node" id="n60_1"><circle cx="118" cy="1226.3" r="5.3"/></g>
<g class="node" id="n60_2"><circle cx="151.3" cy="1226.3" r="5.3"/></g>
<g class="node" id="n60_3"><circle cx="184.7" cy="1226.3" r="5.3"/></g>
<g class="node" id="n61_0"><circle cx="151.3" cy="1246.5" r="5.3"/></g>
<g class="node" id="n61_1"><circle cx="184.7" cy="1246.5" r="5.3"/></g>
<g class="node" id="n62_0"><circle cx="151.3" cy="1266.8" r="5.3"/></g>
<g class="node" id="n62_1"><circle cx="184.7" cy="1266.8" r="5.3"/></g>
<g class="node" id="n63_0"><circle cx="118" cy="1287.1" r="5.3"/></g>
<g class="node" id="n63_1"><circle cx="151.3" cy="1287.1" r="5.3"/></g>
<g class="node" id="n63_2"><circle cx="188.7" cy="1287.1" r="5.3"/></g>
<g class="node" id="n64_0"><circle cx="118" cy="1307.4" r="5.3"/></g>
<g class="node" id="n64_1"><circle cx="151.3" cy="1307.4" r="5.3"/></g>
<g class="node" id="n64_2"><circle cx="192.7" cy="1307.4" r="5.3"/></g>
<g class="node" id="n65_0"><circle cx="102" cy="1327.6" r="5.3"/></g>
<g class="node" id="n65_1"><circle cx="135.3" cy="1327.6" r="5.3"/></g>
<g class="node" id="n65_2"><circle cx="168.7" cy="1327.6" r="5.3"/></g>
<g class="node" id="n65_3"><circle cx="202" cy="1327.6" r="5.3"/></g>
<g class="node" id="n66_0"><circle cx="102" cy="1347.9" r="5.3"/></g>
<g class="node" id="n66_1"><circle cx="135.3" cy="1347.9" r="5.3"/></g>
<g class="node" id="n66_2"><circle cx="168.7" cy="1347.9" r="5.3"/></g>
<g class="node" id="n66_3"><circle cx="202" cy="1347.9" r="5.3"/></g>
<g class="node" id="n67_0"><circle cx="86" cy="1368.2" r="5.3"/></g>
<g class="node" id="n67_1"><circle cx="119.3" cy="1368.2" r="5.3"/></g>
<g class="node" id="n67_2"><circle cx="168.7" cy="1368.2" r="5.3"/></g>
<g class="node" id="n68_0"><circle cx="86" cy="1388.4" r="5.3"/></g>
<g class="node" id="n68_1"><circle cx="119.3" cy="1388.4" r="5.3"/></g>
<g class="node" id="n68_2"><circle cx="168.7" cy="1388.4" r="5.3"/></g>
<g class="node" id="n69_0"><circle cx="119.3" cy="1408.7" r="5.3"/></g>
<g class="node" id="n69_1"><circle cx="168.7" cy="1408.7" r="5.3"/></g>
<g class="node" id="n70_0"><circle cx="119.3" cy="1429" r="5.3"/></g>
<g class="node" id="n70_1"><circle cx="168.7" cy="1429" r="5.3"/></g>
<g class="node" id="n71_0"><circle cx="151.3" cy="1449.3" r="5.3"/></g>
<g class="node" id="n71_1"><circle cx="184.7" cy="1449.3" r="5.3"/></g>
<g class="node" id="n72_0"><circle cx="151.3" cy="1469.5" r="5.3"/></g>
<g class="node" id="n72_1"><circle cx="184.7" cy="1469.5" r="5.3"/></g>
<g class="node" id="n73_0"><circle cx="118" cy="1489.8" r="5.3"/></g>
<g class="node" id="n73_1"><circle cx="151.3" cy="1489.8" r="5.3"/></g>
<g class="node" id="n73_2"><circle cx="184.7" cy="1489.8" r="5.3"/></g>
<g class="node" id="n74_0"><circle cx="118" cy="1510.1" r="5.3"/></g>
<g class="node" id="n74_1"><circle cx="151.3" cy="1510.1" r="5.3"/></g>
<g class="node" id="n74_2"><circle cx="184.7" cy="1510.1" r="5.3"/></g>
<g class="node" id="n75_0"><circle cx="151.3" cy="1530.3" r="5.3"/></g>
<g class="node" id="n75_1"><circle cx="184.7" cy="1530.3" r="5.3"/></g>
<g class="node" id="n76_0"><circle cx="151.3" cy="1550.6" r="5.3"/></g>
<g class="node" id="n76_1"><circle cx="184.7" cy="1550.6" r="5.3"/></g>
<g class="node" id="n77_0"><circle cx="184.7" cy="1570.9" r="5.3"/></g>
<g class="node" id="n78_0"><circle cx="184.7" cy="1591.2" r="5.3"/></g>
<g class="node" id="n79_0"><circle cx="151.3" cy="1611.4" r="5.3"/></g>
<g class="node" id="n79_1"><circle cx="184.7" cy="1611.4" r="5.3"/></g>
<g class="node" id="n79_2"><circle cx="226.7" cy="1611.4" r="5.3"/></g>
<g class="node" id="n80_0"><circle cx="151.3" cy="1631.7" r="5.3"/></g>
<g class="node" id="n80_1"><circle cx="184.7" cy="1631.7" r="5.3"/></g>
<g class="node" id="n80_2"><circle cx="235.3" cy="1631.7" r="5.3"/></g>
<g class="node" id="n81_0"><circle cx="151.3" cy="1652" r="5.3"/></g>
<g class="node" id="n81_1"><circle cx="184.7" cy="1652" r="5.3"/></g>
<g class="node" id="n81_2"><circle cx="218" cy="1652" r="5.3"/></g>
<g class="node" id="n81_3"><circle cx="254" cy="1652" r="5.3"/></g>
<g class="node" id="n82_0"><circle cx="151.3" cy="1672.2" r="5.3"/></g>
<g class="node" id="n82_1"><circle cx="184.7" cy="1672.2" r="5.3"/></g>
<g class="node" id="n82_2"><circle cx="218" cy="1672.2" r="5.3"/></g>
<g class="node" id="n82_3"><circle cx="255.3" cy="1672.2" r="5.3"/></g>
<g class="node" id="n83_0"><circle cx="151.3" cy="1692.5" r="5.3"/></g>
<g class="node" id="n83_1"><circle cx="184.7" cy="1692.5" r="5.3"/></g>
<g class="node" id="n83_2"><circle cx="218" cy="1692.5" r="5.3"/></g>
<g class="node" id="n83_3"><circle cx="259.3" cy="1692.5" r="5.3"/></g>
<g class="node" id="n84_0"><circle cx="151.3" cy="1712.8" r="5.3"/></g>
<g class="node" id="n84_1"><circle cx="184.7" cy="1712.8" r="5.3"/></g>
<g class="node" id="n84_2"><circle cx="218" cy="1712.8" r="5.3"/></g>
<g class="node" id="n84_3"><circle cx="267.3" cy="1712.8" r="5.3"/></g>
<g class="node" id="n85_0"><circle cx="176.7" cy="1733.1" r="5.3"/></g>
<g class="node" id="n85_1"><circle cx="218" cy="1733.1" r="5.3"/></g>
<g class="node" id="n85_2"><circle cx="267.3" cy="1733.1" r="5.3"/></g>
<g class="node" id="n85_3"><circle cx="310" cy="1733.1" r="5.3"/></g>
<g class="node" id="n86_0"><circle cx="167.3" cy="1753.3" r="5.3"/></g>
<g class="node" id="n86_1"><circle cx="218" cy="1753.3" r="5.3"/></g>
<g class="node" id="n86_2"><circle cx="267.3" cy="1753.3" r="5.3"/></g>
<g class="node" id="n86_3"><circle cx="318" cy="1753.3" r="5.3"/></g>
<g class="node" id="n87_0"><circle cx="151.3" cy="1773.6" r="5.3"/></g>
<g class="node" id="n87_1"><circle cx="184.7" cy="1773.6" r="5.3"/></g>
<g class="node" id="n87_2"><circle cx="218" cy="1773.6" r="5.3"/></g>
<g class="node" id="n87_3"><circle cx="251.3" cy="1773.6" r="5.3"/></g>
<g class="node" id="n87_4"><circle cx="318" cy="1773.6" r="5.3"/></g>
<g class="node" id="n87_5"><circle cx="351.3" cy="1773.6" r="5.3"/></g>
<g class="node" id="n88_0"><circle cx="151.3" cy="1793.9" r="5.3"/></g>
<g class="node" id="n88_1"><circle cx="184.7" cy="1793.9" r="5.3"/></g>
<g class="node" id="n88_2"><circle cx="218" cy="1793.9" r="5.3"/></g>
<g class="node" id="n88_3"><circle cx="251.3" cy="1793.9" r="5.3"/></g>
<g class="node" id="n88_4"><circle cx="318" cy="1793.9" r="5.3"/></g>
<g class="node" id="n88_5"><circle cx="351.3" cy="1793.9" r="5.3"/></g>
<g class="node" id="n89_0"><circle cx="151.3" cy="1814.1" r="5.3"/></g>
<g class="node" id="n89_1"><circle cx="210" cy="1814.1" r="5.3"/></g>
<g class="node" id="n89_2"><circle cx="251.3" cy="1814.1" r="5.3"/></g>
<g class="node" id="n89_3"><circle cx="284.7" cy="1814.1" r="5.3"/></g>
<g class="node" id="n89_4"><circle cx="318" cy="1814.1" r="5.3"/></g>
<g class="node" id="n89_5"><circle cx="351.3" cy="1814.1" r="5.3"/></g>
<g class="node" id="n90_0"><circle cx="151.3" cy="1834.4" r="5.3"/></g>
<g class="node" id="n90_1"><circle cx="194" cy="1834.4" r="5.3"/></g>
<g class="node" id="n90_2"><circle cx="251.3" cy="1834.4" r="5.3"/></g>
<g class="node" id="n90_3"><circle cx="284.7" cy="1834.4" r="5.3"/></g>
<g class="node" id="n90_4"><circle cx="318" cy="1834.4" r="5.3"/></g>
<g class="node" id="n90_5"><circle cx="351.3" cy="1834.4" r="5.3"/></g>
<g class="node" id="n91_0"><circle cx="151.3" cy="1854.7" r="5.3"/></g>
<g class="node" id="n91_1"><circle cx="184.7" cy="1854.7" r="5.3"/></g>
<g class="node" id="n91_2"><circle cx="218" cy="1854.7" r="5.3"/></g>
<g class="node" id="n91_3"><circle cx="251.3" cy="1854.7" r="5.3"/></g>
<g class="node" id="n91_4"><circle cx="284.7" cy="1854.7" r="5.3"/></g>
<g class="node" id="n91_5"><circle cx="351.3" cy="1854.7" r="5.3"/></g>
<g class="node" id="n92_0"><circle cx="151.3" cy="1875" r="5.3"/></g>
<g class="node" id="n92_1"><circle cx="184.7" cy="1875" r="5.3"/></g>
<g class="node" id="n92_2"><circle cx="218" cy="1875" r="5.3"/></g>
<g class="node" id="n92_3"><circle cx="251.3" cy="1875" r="5.3"/></g>
<g class="node" id="n92_4"><circle cx="284.7" cy="1875" r="5.3"/></g>
<g class="node" id="n92_5"><circle cx="351.3" cy="1875" r="5.3"/></g>
<g class="node" id="n93_0"><circle cx="151.3" cy="1895.2" r="5.3"/></g>
<g class="node" id="n93_1"><circle cx="184.7" cy="1895.2" r="5.3"/></g>
<g class="node" id="n93_2"><circle cx="218" cy="1895.2" r="5.3"/></g>
<g class="node" id="n93_3"><circle cx="284.7" cy="1895.2" r="5.3"/></g>
<g class="node" id="n93_4"><circle cx="318" cy="1895.2" r="5.3"/></g>
<g class="node" id="n93_5"><circle cx="351.3" cy="1895.2" r="5.3"/></g>
<g class="node" id="n94_0"><circle cx="151.3" cy="1915.5" r="5.3"/></g>
<g class="node" id="n94_1"><circle cx="184.7" cy="1915.5" r="5.3"/></g>
<g class="node" id="n94_2"><circle cx="218" cy="1915.5" r="5.3"/></g>
<g class="node" id="n94_3"><circle cx="284.7" cy="1915.5" r="5.3"/></g>
<g class="node" id="n94_4"><circle cx="318" cy="1915.5" r="5.3"/></g>
<g class="node" id="n94_5"><circle cx="351.3" cy="1915.5" r="5.3"/></g>
<g class="node" id="n95_0"><circle cx="210" cy="1935.8" r="5.3"/></g>
<g class="node" id="n95_1"><circle cx="284.7" cy="1935.8" r="5.3"/></g>
<g class="node" id="n95_2"><circle cx="318" cy="1935.8" r="5.3"/></g>
<g class="node" id="n95_3"><circle cx="351.3" cy="1935.8" r="5.3"/></g>
<g class="node" id="n95_4"><circle cx="384.7" cy="1935.8" r="5.3"/></g>
<g class="node" id="n96_0"><circle cx="206" cy="1956" r="5.3"/></g>
<g class="node" id="n96_1"><circle cx="284.7" cy="1956" r="5.3"/></g>
<g class="node" id="n96_2"><circle cx="318" cy="1956" r="5.3"/></g>
<g class="node" id="n96_3"><circle cx="351.3" cy="1956" r="5.3"/></g>
<g class="node" id="n96_4"><circle cx="384.7" cy="1956" r="5.3"/></g>
<g class="node" id="n97_0"><circle cx="168.7" cy="1976.3" r="5.3"/></g>
<g class="node" id="n97_1"><circle cx="202" cy="1976.3" r="5.3"/></g>
<g class="node" id="n97_2"><circle cx="235.3" cy="1976.3" r="5.3"/></g>
<g class="node" id="n97_3"><circle cx="284.7" cy="1976.3" r="5.3"/></g>
<g class="node" id="n97_4"><circle cx="351.3" cy="1976.3" r="5.3"/></g>
<g class="node" id="n97_5"><circle cx="384.7" cy="1976.3" r="5.3"/></g>
<g class="node" id="n97_6"><circle cx="418" cy="1976.3" r="5.3"/></g>
<g class="node" id="n98_0"><circle cx="168.7" cy="1996.6" r="5.3"/></g>
<g class="node" id="n98_1"><circle cx="202" cy="1996.6" r="5.3"/></g>
<g class="node" id="n98_2"><circle cx="235.3" cy="1996.6" r="5.3"/></g>
<g class="node" id="n98_3"><circle cx="284.7" cy="1996.6" r="5.3"/></g>
<g class="node" id="n98_4"><circle cx="351.3" cy="1996.6" r="5.3"/></g>
<g class="node" id="n98_5"><circle cx="384.7" cy="1996.6" r="5.3"/></g>
<g class="node" id="n98_6"><circle cx="418" cy="1996.6" r="5.3"/></g>
<g class="node" id="n99_0"><circle cx="135.3" cy="2016.9" r="5.3"/></g>
<g class="node" id="n99_1"><circle cx="168.7" cy="2016.9" r="5.3"/></g>
<g class="node" id="n99_2"><circle cx="202" cy="2016.9" r="5.3"/></g>
<g class="node" id="n99_3"><circle cx="235.3" cy="2016.9" r="5.3"/></g>
<g class="node" id="n99_4"><circle cx="284.7" cy="2016.9" r="5.3"/></g>
<g class="node" id="n99_5"><circle cx="318" cy="2016.9" r="5.3"/></g>
<g class="node" id="n99_6"><circle cx="351.3" cy="2016.9" r="5.3"/></g>
<g class="node" id="n99_7"><circle cx="384.7" cy="2016.9" r="5.3"/></g>
<g class="node" id="n99_8"><circle cx="418" cy="2016.9" r="5.3"/></g>
<g class="node" id="n100_0"><circle cx="135.3" cy="2037.1" r="5.3"/></g>
<g class="node" id="n100_1"><circle cx="168.7" cy="2037.1" r="5.3"/></g>
<g class="node" id="n100_2"><circle cx="202" cy="2037.1" r="5.3"/></g>
<g class="node" id="n100_3"><circle cx="235.3" cy="2037.1" r="5.3"/></g>
<g class="node" id="n100_4"><circle cx="284.7" cy="2037.1" r="5.3"/></g>
<g class="node" id="n100_5"><circle cx="318" cy="2037.1" r="5.3"/></g>
<g class="node" id="n100_6"><circle cx="351.3" cy="2037.1" r="5.3"/></g>
<g class="node" id="n100_7"><circle cx="384.7" cy="2037.1" r="5.3"/></g>
<g class="node" id="n100_8"><circle cx="418" cy="2037.1" r="5.3"/></g>
<g class="node" id="n101_0"><circle cx="168.7" cy="2057.4" r="5.3"/></g>
<g class="node" id="n101_1"><circle cx="227.3" cy="2057.4" r="5.3"/></g>
<g class="node" id="n101_2"><circle cx="284.7" cy="2057.4" r="5.3"/></g>
<g class="node" id="n101_3"><circle cx="318" cy="2057.4" r="5.3"/></g>
<g class="node" id="n101_4"><circle cx="351.3" cy="2057.4" r="5.3"/></g>
<g class="node" id="n102_0"><circle cx="168.7" cy="2077.7" r="5.3"/></g>
<g class="node" id="n102_1"><circle cx="223.3" cy="2077.7" r="5.3"/></g>
<g class="node" id="n102_2"><circle cx="284.7" cy="2077.7" r="5.3"/></g>
<g class="node" id="n102_3"><circle cx="318" cy="2077.7" r="5.3"/></g>
<g class="node" id="n102_4"><circle cx="351.3" cy="2077.7" r="5.3"/></g>
<g class="node" id="n103_0"><circle cx="218" cy="2097.9" r="5.3"/></g>
<g class="node" id="n103_1"><circle cx="251.3" cy="2097.9" r="5.3"/></g>
<g class="node" id="n103_2"><circle cx="284.7" cy="2097.9" r="5.3"/></g>
<g class="node" id="n103_3"><circle cx="318" cy="2097.9" r="5.3"/></g>
<g class="node" id="n103_4"><circle cx="351.3" cy="2097.9" r="5.3"/></g>
<g class="node" id="n104_0"><circle cx="218" cy="2118.2" r="5.3"/></g>
<g class="node" id="n104_1"><circle cx="251.3" cy="2118.2" r="5.3"/></g>
<g class="node" id="n104_2"><circle cx="284.7" cy="2118.2" r="5.3"/></g>
<g class="node" id="n104_3"><circle cx="318" cy="2118.2" r="5.3"/></g>
<g class="node" id="n104_4"><circle cx="351.3" cy="2118.2" r="5.3"/></g>
<g class="node" id="n105_0"><circle cx="218" cy="2138.5" r="5.3"/></g>
<g class="node" id="n105_1"><circle cx="256.7" cy="2138.5" r="5.3"/></g>
<g class="node" id="n105_2"><circle cx="318" cy="2138.5" r="5.3"/></g>
<g class="node" id="n105_3"><circle cx="351.3" cy="2138.5" r="5.3"/></g>
<g class="node" id="n106_0"><circle cx="214" cy="2158.7" r="5.3"/></g>
<g class="node" id="n106_1"><circle cx="264.7" cy="2158.7" r="5.3"/></g>
<g class="node" id="n106_2"><circle cx="318" cy="2158.7" r="5.3"/></g>
<g class="node" id="n106_3"><circle cx="351.3" cy="2158.7" r="5.3"/></g>
<g class="node" id="n107_0"><circle cx="214" cy="2179" r="5.3"/></g>
<g class="node" id="n107_1"><circle cx="264.7" cy="2179" r="5.3"/></g>
<g class="node" id="n107_2"><circle cx="302" cy="2179" r="5.3"/></g>
<g class="node" id="n107_3"><circle cx="351.3" cy="2179" r="5.3"/></g>
<g class="node" id="n108_0"><circle cx="214" cy="2199.3" r="5.3"/></g>
<g class="node" id="n108_1"><circle cx="264.7" cy="2199.3" r="5.3"/></g>
<g class="node" id="n108_2"><circle cx="306" cy="2199.3" r="5.3"/></g>
<g class="node" id="n108_3"><circle cx="351.3" cy="2199.3" r="5.3"/></g>
<g class="node" id="n109_0"><circle cx="214" cy="2219.6" r="5.3"/></g>
<g class="node" id="n109_1"><circle cx="247.3" cy="2219.6" r="5.3"/></g>
<g class="node" id="n109_2"><circle cx="280.7" cy="2219.6" r="5.3"/></g>
<g class="node" id="n109_3"><circle cx="314" cy="2219.6" r="5.3"/></g>
<g class="node" id="n109_4"><circle cx="351.3" cy="2219.6" r="5.3"/></g>
<g class="node" id="n110_0"><circle cx="214" cy="2239.8" r="5.3"/></g>
<g class="node" id="n110_1"><circle cx="247.3" cy="2239.8" r="5.3"/></g>
<g class="node" id="n110_2"><circle cx="280.7" cy="2239.8" r="5.3"/></g>
<g class="node" id="n110_3"><circle cx="314" cy="2239.8" r="5.3"/></g>
<g class="node" id="n110_4"><circle cx="351.3" cy="2239.8" r="5.3"/></g>
<g class="node" id="n111_0"><circle cx="214" cy="2260.1" r="5.3"/></g>
<g class="node" id="n111_1"><circle cx="247.3" cy="2260.1" r="5.3"/></g>
<g class="node" id="n111_2"><circle cx="280.7" cy="2260.1" r="5.3"/></g>
<g class="node" id="n111_3"><circle cx="314" cy="2260.1" r="5.3"/></g>
<g class="node" id="n112_0"><circle cx="214" cy="2280.4" r="5.3"/></g>
<g class="node" id="n112_1"><circle cx="247.3" cy="2280.4" r="5.3"/></g>
<g class="node" id="n112_2"><circle cx="280.7" cy="2280.4" r="5.3"/></g>
<g class="node" id="n112_3"><circle cx="314" cy="2280.4" r="5.3"/></g>
<g class="node" id="n113_0"><circle cx="214" cy="2300.6" r="5.3"/></g>
<g class="node" id="n113_1"><circle cx="314" cy="2300.6" r="5.3"/></g>
<g class="node" id="n114_0"><circle cx="214" cy="2320.9" r="5.3"/></g>
<g class="node" id="n114_1"><circle cx="314" cy="2320.9" r="5.3"/></g>
<g class="node" id="n115_0"><circle cx="214" cy="2341.2" r="5.3"/></g>
<g class="node" id="n116_0"><circle cx="214" cy="2361.5" r="5.3"/></g>
<g class="node" id="n117_0"><circle cx="214" cy="2381.7" r="5.3"/></g>
<g class="node" id="n118_0"><circle cx="214" cy="2402" r="5.3"/></g>
</g>
</svg>
